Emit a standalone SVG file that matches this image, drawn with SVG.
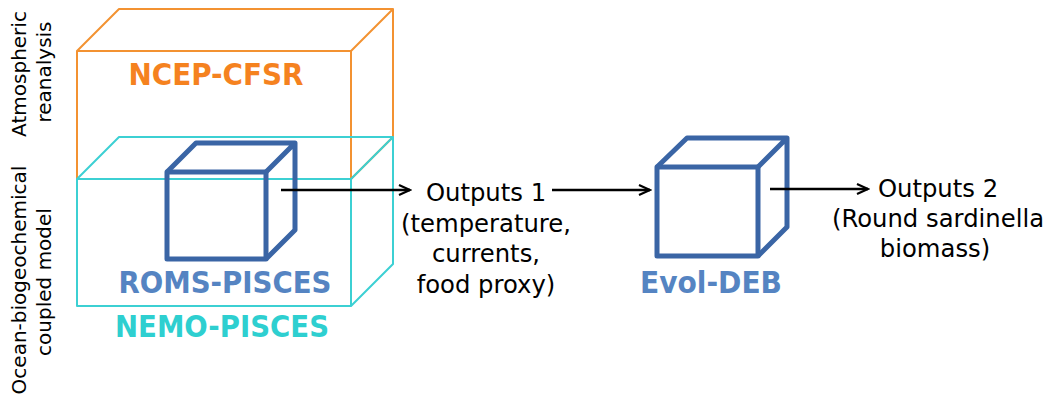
<svg xmlns="http://www.w3.org/2000/svg" width="1054" height="401" viewBox="0 0 1054 401">
  <defs>
    <style>
      .box-atm { fill: none; stroke: #f39231; stroke-width: 2; stroke-linejoin: round; }
      .box-ocean { fill: none; stroke: #3cd0d3; stroke-width: 2; stroke-linejoin: round; }
      .cube { fill: none; stroke: #3a65a5; stroke-width: 5; stroke-linejoin: round; }
      .axis-label { font-family: "DejaVu Sans", "Liberation Sans", sans-serif; font-size: 20px; fill: #000; text-anchor: middle; }
      .model { font-family: "DejaVu Sans Condensed", "DejaVu Sans", sans-serif; font-weight: bold; font-size: 30px; text-anchor: middle; }
      .out { font-family: "DejaVu Sans", "Liberation Sans", sans-serif; font-size: 24.3px; fill: #000; text-anchor: middle; }
      .link { fill: none; stroke: #000; stroke-width: 2.5; }
    </style>
    <marker id="chevron" viewBox="-13 -7 15 14" markerWidth="15" markerHeight="14" refX="0" refY="0" markerUnits="userSpaceOnUse" orient="auto">
      <path d="M-11,-5 L0,0 L-11,5" fill="none" stroke="#000" stroke-width="2.2" stroke-linejoin="miter"/>
    </marker>
  </defs>

  <rect width="1054" height="401" fill="#fff"/>

  <!-- side labels -->
  <g id="label-atmospheric">
    <text class="axis-label" transform="translate(26,74) rotate(-90)">Atmospheric</text>
    <text class="axis-label" transform="translate(51,72) rotate(-90)">reanalysis</text>
  </g>
  <g id="label-ocean">
    <text class="axis-label" transform="translate(26,280) rotate(-90)">Ocean-biogeochemical</text>
    <text class="axis-label" transform="translate(51,282) rotate(-90)">coupled model</text>
  </g>

  <!-- atmospheric reanalysis box -->
  <g id="ncep-cfsr">
    <rect class="box-atm" x="77" y="51" width="274" height="128"/>
    <path class="box-atm" d="M77,51 L119,9 L393,9 L393,137 L351,179 M351,51 L393,9"/>
    <text class="model" x="216" y="85" fill="#f5821f" textLength="175" lengthAdjust="spacingAndGlyphs">NCEP-CFSR</text>
  </g>

  <!-- ocean model box -->
  <g id="nemo-pisces">
    <rect class="box-ocean" x="77" y="179" width="274" height="127"/>
    <path class="box-ocean" d="M77,179 L119,137 L393,137 L393,264 L351,306 M351,179 L393,137"/>
    <text class="model" x="222" y="337" fill="#2ecfd0" textLength="214" lengthAdjust="spacingAndGlyphs">NEMO-PISCES</text>
  </g>

  <!-- regional ocean model cube -->
  <g id="roms-pisces">
    <rect class="cube" x="167" y="172" width="99" height="87"/>
    <path class="cube" d="M167,172 L196,143 L295,143 L295,230 L266,259 M266,172 L295,143"/>
    <text class="model" x="225" y="293" fill="#5584c2" textLength="213" lengthAdjust="spacingAndGlyphs">ROMS-PISCES</text>
  </g>

  <!-- fish model cube -->
  <g id="evol-deb">
    <rect class="cube" x="657" y="167" width="101" height="89"/>
    <path class="cube" d="M657,167 L687,138 L787,138 L787,227 L758,256 M758,167 L787,138"/>
    <text class="model" x="711" y="293" fill="#5584c2" textLength="142" lengthAdjust="spacingAndGlyphs">Evol-DEB</text>
  </g>

  <g id="outputs-1">
    <text class="out" x="486" y="201">Outputs 1</text>
    <text class="out" x="486" y="232">(temperature,</text>
    <text class="out" x="486" y="262">currents,</text>
    <text class="out" x="486" y="293">food proxy)</text>
  </g>

  <g id="outputs-2">
    <text class="out" x="938" y="197">Outputs 2</text>
    <text class="out" x="938" y="227">(Round sardinella</text>
    <text class="out" x="935" y="257">biomass)</text>
  </g>

  <!-- connectors -->
  <g id="connectors">
    <line class="link" x1="281" y1="190" x2="410" y2="190" marker-end="url(#chevron)"/>
    <line class="link" x1="552" y1="190" x2="650" y2="190" marker-end="url(#chevron)"/>
    <line class="link" x1="770" y1="189" x2="868" y2="189" marker-end="url(#chevron)"/>
  </g>
</svg>
